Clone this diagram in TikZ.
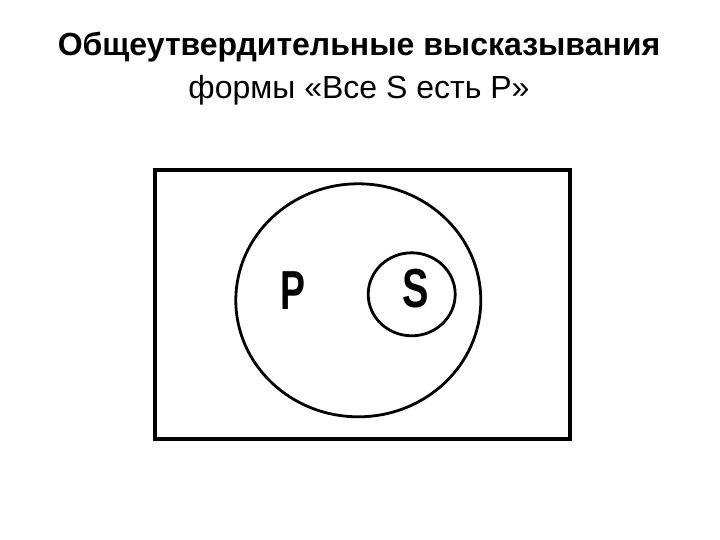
\documentclass[tikz,border=0pt]{standalone}
\usepackage{fontspec}
\setmainfont{Liberation Sans}
\begin{document}
\begin{tikzpicture}[x=1pt,y=-1pt,
  titlebold/.style={font=\fontsize{32}{36}\selectfont\bfseries, inner sep=0pt, anchor=center},
  titlereg/.style={font=\fontsize{32}{36}\selectfont, inner sep=0pt, anchor=center},
  frame/.style={draw=black, line width=4pt},
  setline/.style={draw=black, line width=2.8pt},
  setlabel/.style={font=\fontsize{55}{60}\selectfont\bfseries, inner sep=0pt, anchor=center}]
\useasboundingbox (0,0) rectangle (720,540);
\node[titlebold] (t1) at (359,47) {Общеутвердительные высказывания};
\node[titlereg] (t2) at (359,90) {формы «Все S есть P»};
\draw[frame] (154.5,170) rectangle (569.5,439);
\draw[setline] (358.3,300.3) ellipse [x radius=122.5, y radius=116.5];
\draw[setline] (411.7,294.3) ellipse [x radius=43.5, y radius=41.5];
\node[setlabel] (p) at (293,291) {\scalebox{0.68}[1]{P}};
\node[setlabel] (s) at (416,289) {\scalebox{0.72}[1]{S}};
\end{tikzpicture}
\end{document}
